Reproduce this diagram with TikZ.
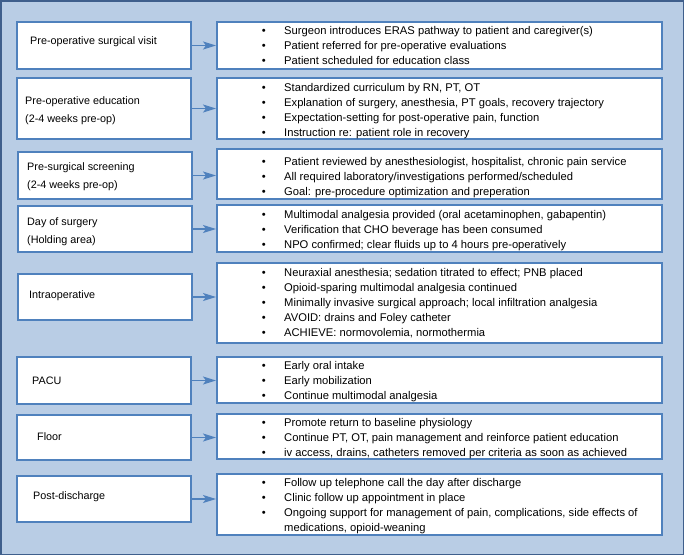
\documentclass[tikz,border=0pt]{standalone}
\usepackage{fontspec}
\setmainfont{Liberation Sans}
\usetikzlibrary{arrows.meta}

\definecolor{paneblue}{HTML}{B9CDE5}
\definecolor{boxblue}{HTML}{4F81BD}
\definecolor{frameblue}{HTML}{3F5F8C}

\newcommand{\bul}[1]{\makebox[22.4pt][l]{\textbullet}#1}
\newcommand{\bulcont}[1]{\makebox[22.4pt][l]{}#1}

\begin{document}
\begin{tikzpicture}[x=1pt, y=-1pt,
    stagebox/.style={draw=boxblue, line width=2pt, fill=white, inner sep=0pt, minimum width=174pt},
    detailbox/.style={draw=boxblue, line width=2pt, fill=white, inner sep=0pt, minimum width=445pt},
    stagetext/.style={anchor=west, inner sep=0pt, align=left, font=\fontsize{10.8}{18}\selectfont},
    listtext/.style={anchor=north west, inner sep=0pt, align=left, font=\fontsize{11.2}{14.8}\selectfont},
    arr/.style={draw=boxblue, line width=1.5pt, -{Stealth[length=13pt,width=8pt,inset=3pt]}}]
			\useasboundingbox (0,0) rectangle (685,557);
			\draw[fill=paneblue, draw=frameblue, line width=1.5pt] (1,1) rectangle (683.5,554.5);
			% stages on the left
			\node[stagebox, minimum height=47pt] (s1) at (104,45.5) {};
			\node[stagebox, minimum height=61pt] (s2) at (104,108.5) {};
			\node[stagebox, minimum height=47pt] (s3) at (105,175.5) {};
			\node[stagebox, minimum height=46pt] (s4) at (105,229) {};
			\node[stagebox, minimum height=46pt] (s5) at (105,297) {};
			\node[stagebox, minimum height=47pt] (s6) at (104,380.5) {};
			\node[stagebox, minimum height=45pt] (s7) at (103.5,437.5) {};
			\node[stagebox, minimum height=46pt] (s8) at (103.5,499) {};
			\node[stagetext] (l1) at (30,42) {Pre-operative surgical visit};
			\node[stagetext] (l2) at (25,111) {Pre-operative education\\(2-4 weeks pre-op)};
			\node[stagetext] (l3) at (27,177) {Pre-surgical screening\\(2-4 weeks pre-op)};
			\node[stagetext] (l4) at (27,232) {Day of surgery\\(Holding area)};
			\node[stagetext] (l5) at (29,296) {Intraoperative};
			\node[stagetext] (l6) at (32,381) {PACU};
			\node[stagetext] (l7) at (37,437) {Floor};
			\node[stagetext] (l8) at (33,497) {Post-discharge};
			% details on the right
			\node[detailbox, minimum height=47pt] (d1) at (439.5,45.5) {};
			\node[detailbox, minimum height=61pt] (d2) at (439.5,108.5) {};
			\node[detailbox, minimum height=50pt] (d3) at (439.5,174) {};
			\node[detailbox, minimum height=47pt] (d4) at (439.5,228.5) {};
			\node[detailbox, minimum height=80pt] (d5) at (439.5,303) {};
			\node[detailbox, minimum height=46pt] (d6) at (439.5,380) {};
			\node[detailbox, minimum height=45pt] (d7) at (439.5,436.5) {};
			\node[detailbox, minimum height=61pt] (d8) at (439.5,504.5) {};
			\node[listtext] (t1) at (261.6,26.5) {\bul{Surgeon introduces ERAS pathway to patient and caregiver(s)}\\
				\bul{Patient referred for pre-operative evaluations}\\
				\bul{Patient scheduled for education class}};
			\node[listtext] (t2) at (261.6,83.5) {\bul{Standardized curriculum by RN, PT, OT}\\
				\bul{Explanation of surgery, anesthesia, PT goals, recovery trajectory}\\
				\bul{Expectation-setting for post-operative pain, function}\\
				\bul{Instruction re: patient role in recovery}};
			\node[listtext] (t3) at (261.6,157.5) {\bul{Patient reviewed by anesthesiologist, hospitalist, chronic pain service}\\
				\bul{All required laboratory/investigations performed/scheduled}\\
				\bul{Goal: pre-procedure optimization and preperation}};
			\node[listtext] (t4) at (261.6,210.5) {\bul{Multimodal analgesia provided (oral acetaminophen, gabapentin)}\\
				\bul{Verification that CHO beverage has been consumed}\\
				\bul{NPO confirmed; clear fluids up to 4 hours pre-operatively}};
			\node[listtext] (t5) at (261.6,268.5) {\bul{Neuraxial anesthesia; sedation titrated to effect; PNB placed}\\
				\bul{Opioid-sparing multimodal analgesia continued}\\
				\bul{Minimally invasive surgical approach; local infiltration analgesia}\\
				\bul{AVOID: drains and Foley catheter}\\
				\bul{ACHIEVE: normovolemia, normothermia}};
			\node[listtext] (t6) at (261.6,361.5) {\bul{Early oral intake}\\
				\bul{Early mobilization}\\
				\bul{Continue multimodal analgesia}};
			\node[listtext] (t7) at (261.6,418.5) {\bul{Promote return to baseline physiology}\\
				\bul{Continue PT, OT, pain management and reinforce patient education}\\
				\bul{iv access, drains, catheters removed per criteria as soon as achieved}};
			\node[listtext] (t8) at (261.6,478.5) {\bul{Follow up telephone call the day after discharge}\\
				\bul{Clinic follow up appointment in place}\\
				\bul{Ongoing support for management of pain, complications, side effects of}\\
				\bulcont{medications, opioid-weaning}};
			% arrows
			\foreach \i in {1,...,8}
				\draw[arr] (s\i.east) -- (s\i.east -| d\i.west);
		\end{tikzpicture}
\end{document}
